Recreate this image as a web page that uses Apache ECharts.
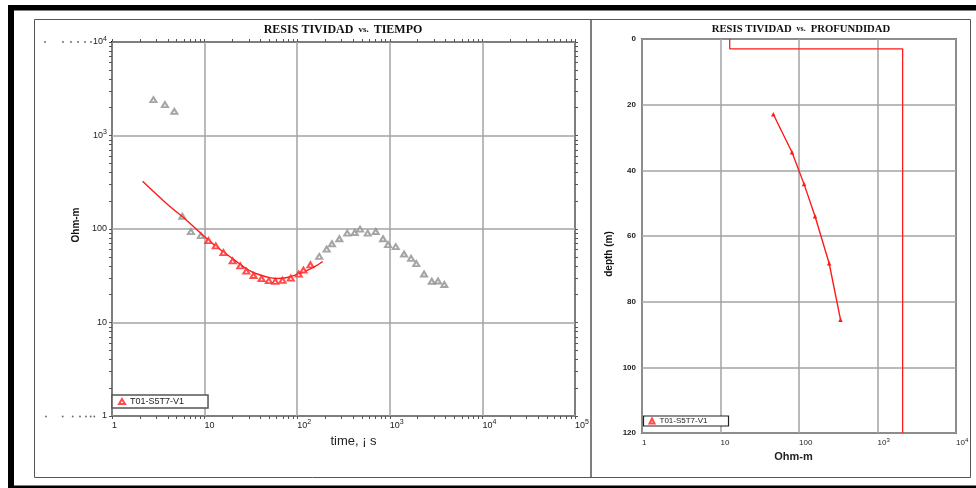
<!DOCTYPE html>
<html>
<head>
<meta charset="utf-8">
<script src="https://cdn.jsdelivr.net/npm/echarts@6.0.0/dist/echarts.min.js"></script>
<style>
html,body{margin:0;padding:0;background:#fff;}
#c{width:976px;height:488px;}
</style>
</head>
<body>
<div id="c"></div>
<script>
// ---------- DATA ----------
const seriesName = 'T01-S5T7-V1';
// Left chart: apparent resistivity vs time (gray = not used, red = fitted window)
const earlyTime = [2.8, 3.73, 4.71, 5.74, 7.12, 9.12];
const earlyRho  = [2415, 2140, 1811, 137, 93.6, 84.9];
const fitTime = [11.0, 13.2, 16.0, 20.1, 24.3, 28.2, 33.8, 41.2, 49.4, 57.9, 69.4, 85.3, 104, 117, 139];
const fitRho  = [75.2, 65.9, 56.0, 45.7, 40.4, 35.4, 31.8, 29.4, 28.0, 27.5, 28.2, 29.8, 32.9, 36.3, 41.4];
const lateTime = [173, 208, 237, 285, 347, 418, 477, 577, 705, 845, 957, 1159, 1425, 1698, 1932, 2344, 2839, 3313, 3878];
const lateRho  = [50.9, 61.0, 69.5, 78.7, 90.2, 91.8, 99.5, 90.2, 94.0, 78.7, 68.0, 64.7, 54.0, 48.6, 42.7, 33.0, 27.6, 27.8, 25.5];
// model response curve
const curveTime = [2.14, 3.96, 6.51, 10, 13.7, 20.7, 31.3, 47.5, 60.8, 78, 109, 151, 189];
const curveRho  = [324, 184, 122, 82.8, 63.7, 47.1, 35.4, 30.6, 29.6, 30.3, 33.7, 39.0, 44.9];
// Right chart: layered model and transformed resistivity vs depth
const layerRho   = [13.1, 2090];
const layerDepth = [0, 3, 120];
const depthRho = [47.1, 81.4, 116, 160, 242, 338];
const depthVal = [22.9, 34.5, 44.2, 54.0, 68.3, 85.5];
// tick labels (index = decade exponent)
const timeTickLabels  = ['1', '10', '10^2', '10^3', '10^4', '10^5'];
const rhoTickLabels   = ['1', '10', '100', '10^3', '10^4'];
const ohmTickLabels   = ['1', '10', '100', '10^3', '10^4'];
const depthTicks = [0, 20, 40, 60, 80, 100, 120];

// ---------- HELPERS ----------
const zip = (a, b) => a.map((v, i) => [v, b[i]]);
function supLabel(t) {
  const p = t.split('^');
  return p.length > 1 ? '{b|' + p[0] + '}{s|' + p[1] + '}' : '{b|' + t + '}';
}
function logMinor(decades) {
  const out = [];
  for (let k = 0; k < decades; k++) for (let m = 1; m <= 9; m++) out.push(k + Math.log10(m));
  out.push(decades);
  return out;
}
const SANS = 'Liberation Sans';
const SERIF = 'Liberation Serif';
function rich(fs, color, weight) {
  return {
    b: {fontSize: fs, lineHeight: fs + 4, fontFamily: SANS, color: color, fontWeight: weight || 'normal'},
    s: {fontSize: fs - 2, lineHeight: fs - 2, verticalAlign: 'top', fontFamily: SANS, color: color, fontWeight: weight || 'normal'}
  };
}
const gridLine = {show: true, lineStyle: {color: '#a3a3a3', width: 1.5}};
function tickAxis(gridIndex, pos, decades) {
  return {
    gridIndex: gridIndex, type: 'value', position: pos, min: 0, max: decades,
    axisLine: {show: false}, splitLine: {show: false}, axisLabel: {show: false},
    axisTick: {show: true, customValues: logMinor(decades), length: 3, inside: false,
               lineStyle: {color: '#555', width: 1}}
  };
}
// stray dotted tick artefacts left of the value axis (decorative)
function dots(xs, y) {
  return xs.map(x => ({type: 'circle', silent: true, z: 50, shape: {cx: x, cy: y, r: 0.9}, style: {fill: '#666'}}));
}

const option = {
  animation: false,
  backgroundColor: '#fff',
  title: [
    {text: '{a|RESIS TIVIDAD} {v|vs.} {a|TIEMPO}', left: 343, top: 21, textAlign: 'center', padding: 0,
     textStyle: {rich: {a: {fontFamily: SERIF, fontWeight: 'bold', fontSize: 12, color: '#111'},
                        v: {fontFamily: SERIF, fontWeight: 'bold', fontSize: 9, color: '#111'}}}},
    {text: '{a|RESIS TIVIDAD} {v|vs.} {a|PROFUNDIDAD}', left: 801, top: 20, textAlign: 'center', padding: 0,
     textStyle: {rich: {a: {fontFamily: SERIF, fontWeight: 'bold', fontSize: 10.7, color: '#111'},
                        v: {fontFamily: SERIF, fontWeight: 'bold', fontSize: 8, color: '#111'}}}}
  ],
  legend: [
    {data: [{name: seriesName, icon: 'emptyTriangle'}], left: 112, top: 395, orient: 'horizontal',
     padding: [2, 24, 2, 6], itemWidth: 6, itemHeight: 5, selectedMode: false,
     backgroundColor: '#fff', borderColor: '#555', borderWidth: 1.5,
     textStyle: {fontFamily: SANS, fontSize: 9, color: '#222'}},
    {data: [{name: seriesName, icon: 'emptyTriangle'}], left: 643.5, top: 416, orient: 'horizontal',
     padding: [1, 21, 1, 5], itemWidth: 5, itemHeight: 5, selectedMode: false,
     backgroundColor: '#fff', borderColor: '#222', borderWidth: 1.2,
     textStyle: {fontFamily: SANS, fontSize: 8, color: '#222'}}
  ],
  grid: [
    {left: 112, top: 42, width: 463, height: 374, show: true, borderColor: '#111', borderWidth: 2, backgroundColor: 'transparent', containLabel: false},
    {left: 642, top: 39, width: 314, height: 394, show: true, borderColor: '#111', borderWidth: 1.5, backgroundColor: 'transparent', containLabel: false}
  ],
  xAxis: [
    {gridIndex: 0, type: 'log', logBase: 10, min: 1, max: 100000, position: 'bottom',
     axisLine: {show: false}, axisTick: {show: false}, splitLine: gridLine,
     axisLabel: {show: true, margin: 3, align: 'left', formatter: v => supLabel(timeTickLabels[Math.round(Math.log10(v))]),
                 rich: rich(9, '#222')},
     name: 'time, ¡ s', nameLocation: 'middle', nameGap: 16,
     nameTextStyle: {fontFamily: SANS, fontSize: 13, color: '#222', padding: [0, 0, 0, 20]}},
    tickAxis(0, 'bottom', 5),
    tickAxis(0, 'top', 5),
    {gridIndex: 1, type: 'log', logBase: 10, min: 1, max: 10000, position: 'bottom',
     axisLine: {show: false}, axisTick: {show: false}, splitLine: gridLine,
     axisLabel: {show: true, margin: 4, align: 'left', formatter: v => supLabel(ohmTickLabels[Math.round(Math.log10(v))]),
                 rich: rich(8, '#222')},
     name: 'Ohm-m', nameLocation: 'middle', nameGap: 10,
     nameTextStyle: {fontFamily: SANS, fontSize: 11, fontWeight: 'bold', color: '#222', padding: [0, 11, 0, 0]}}
  ],
  yAxis: [
    {gridIndex: 0, type: 'log', logBase: 10, min: 1, max: 10000, position: 'left',
     axisLine: {show: false}, axisTick: {show: false}, splitLine: gridLine,
     axisLabel: {show: true, margin: 5, formatter: v => supLabel(rhoTickLabels[Math.round(Math.log10(v))]),
                 rich: rich(9, '#222')},
     name: 'Ohm-m', nameLocation: 'middle', nameGap: 31, nameRotate: 90,
     nameTextStyle: {fontFamily: SANS, fontSize: 10, fontWeight: 'bold', color: '#111', padding: [0, 0, 0, 8]}},
    tickAxis(0, 'left', 4),
    tickAxis(0, 'right', 4),
    {gridIndex: 1, type: 'value', min: 0, max: 120, interval: 20, inverse: true, position: 'left',
     axisLine: {show: false}, axisTick: {show: false}, splitLine: gridLine,
     axisLabel: {show: true, margin: 6, fontFamily: SANS, fontSize: 8, fontWeight: 'bold', color: '#222',
                 customValues: depthTicks},
     name: 'depth (m)', nameLocation: 'middle', nameGap: 28, nameRotate: 90,
     nameTextStyle: {fontFamily: SANS, fontSize: 10, fontWeight: 'bold', color: '#111', padding: [0, 36, 0, 0]}}
  ],
  series: [
    {type: 'scatter', name: 'early', xAxisIndex: 0, yAxisIndex: 0, data: zip(earlyTime, earlyRho),
     symbol: 'emptyTriangle', symbolSize: [6, 5], itemStyle: {color: '#8e8e8e', borderWidth: 1}, z: 3},
    {type: 'scatter', name: 'late', xAxisIndex: 0, yAxisIndex: 0, data: zip(lateTime, lateRho),
     symbol: 'emptyTriangle', symbolSize: [6, 5], itemStyle: {color: '#8e8e8e', borderWidth: 1}, z: 3},
    {type: 'line', name: 'curve', xAxisIndex: 0, yAxisIndex: 0, data: zip(curveTime, curveRho),
     smooth: 0.35, showSymbol: false, symbol: 'none', lineStyle: {color: '#ff1a1a', width: 1.4}, z: 4},
    {type: 'scatter', name: seriesName, xAxisIndex: 0, yAxisIndex: 0, data: zip(fitTime, fitRho),
     symbol: 'emptyTriangle', symbolSize: [6, 5], itemStyle: {color: '#ff2020', borderWidth: 1}, z: 5},
    {type: 'line', name: 'model', xAxisIndex: 3, yAxisIndex: 3,
     data: [[layerRho[0], layerDepth[0]], [layerRho[0], layerDepth[1]], [layerRho[1], layerDepth[1]], [layerRho[1], layerDepth[2]]],
     showSymbol: false, symbol: 'none', lineStyle: {color: '#ff1a1a', width: 1.3}, z: 4},
    {type: 'line', name: 'depthcurve', xAxisIndex: 3, yAxisIndex: 3, data: zip(depthRho, depthVal),
     symbol: 'triangle', symbolSize: [4.5, 4.5], showSymbol: true, itemStyle: {color: '#ff1a1a'},
     lineStyle: {color: '#ff1a1a', width: 1.4}, z: 5}
  ],
  graphic: [
    {type: 'rect', silent: true, z: 0, shape: {x: 34.5, y: 19.5, width: 556.5, height: 458}, style: {fill: 'none', stroke: '#555', lineWidth: 1}},
    {type: 'rect', silent: true, z: 0, shape: {x: 591, y: 19.5, width: 379.5, height: 458}, style: {fill: 'none', stroke: '#555', lineWidth: 1}},
    {type: 'rect', silent: true, z: 100, shape: {x: 8, y: 5, width: 968, height: 5.5}, style: {fill: '#000'}},
    {type: 'rect', silent: true, z: 100, shape: {x: 8, y: 5, width: 6, height: 483}, style: {fill: '#000'}},
    {type: 'rect', silent: true, z: 100, shape: {x: 8, y: 485.5, width: 968, height: 2.5}, style: {fill: '#000'}}
  ].concat(dots([45, 63, 71, 78, 85, 91], 42), dots([46, 62.7, 72.7, 80, 86, 90.7, 94.3], 416.5))
};

const chart = echarts.init(document.getElementById('c'), null, {renderer: 'canvas'});
chart.setOption(option);
</script>
</body>
</html>
